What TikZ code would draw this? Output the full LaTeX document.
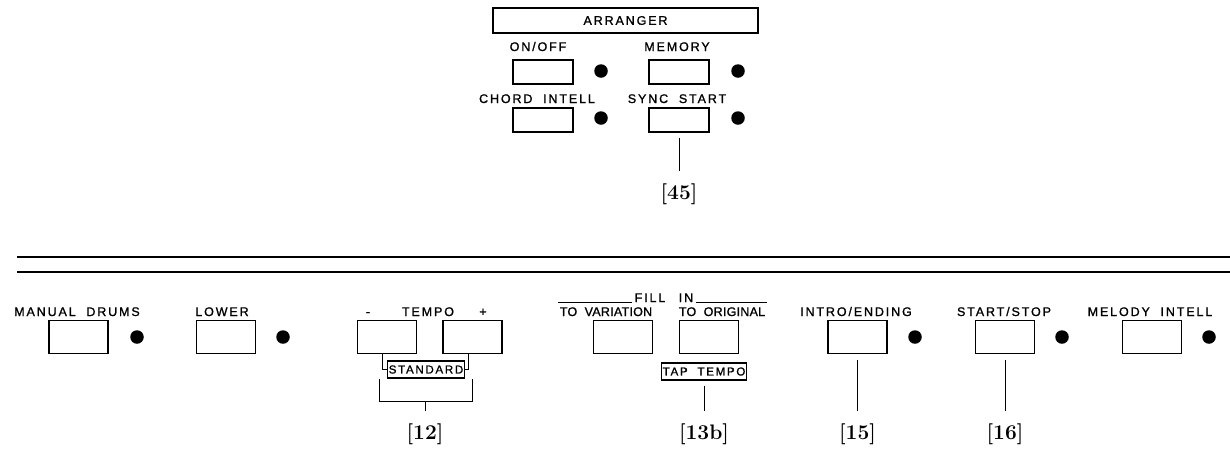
\documentclass[tikz,border=0pt]{standalone}
\usepackage{fontspec}
\usepackage{tikz}
\newfontfamily\panelfont[LetterSpace=15,FakeBold=1.2]{Liberation Sans}
\newfontfamily\panelfonttight[LetterSpace=2,FakeBold=1.2]{Liberation Sans}

\begin{document}
\begin{tikzpicture}[x=1pt,y=-1pt,
	lbl/.style={font=\panelfont\fontsize{12.5}{12.5}\selectfont, inner sep=0pt, anchor=base},
	tightlbl/.style={lbl, font=\panelfonttight\fontsize{12.5}{12.5}\selectfont},
	btn/.style={draw, line width=1.4pt, minimum width=59pt, minimum height=33pt, inner sep=0pt},
	smallbtn/.style={btn, minimum width=60pt, minimum height=24pt},
	lamp/.style={circle, fill=black, inner sep=0pt, minimum size=13.5pt},
	tag/.style={draw, line width=1.1pt, font=\panelfont\fontsize{11.5}{11.5}\selectfont, inner sep=1.5pt, minimum height=17pt},
	ref/.style={font=\bfseries\fontsize{21}{21}\selectfont, inner sep=0pt},
	lead/.style={line width=0.9pt}]
	
	\useasboundingbox (0,0) rectangle (1230,448);
	
	% arranger panel
	\node[draw, line width=1.1pt, minimum width=265pt, minimum height=25pt, font=\panelfont\fontsize{12.5}{12.5}\selectfont] (arr) at (625.5,20.5) {ARRANGER};
	
	\node[lbl] (onofflbl) at (538,51) {ON/OFF};
	\node[smallbtn] (onoff) at (543,72) {};
	\node[lamp] (onofflamp) at (601,71) {};
	
	\node[lbl] (memlbl) at (677,51) {MEMORY};
	\node[smallbtn] (mem) at (679,72) {};
	\node[lamp] (memlamp) at (738,71) {};
	
	\node[lbl] (chordlbl) at (537,103) {CHORD~~INTELL};
	\node[smallbtn] (chord) at (543,120) {};
	\node[lamp] (chordlamp) at (601,118) {};
	
	\node[lbl] (synclbl) at (677,103) {SYNC~~START};
	\node[smallbtn] (sync) at (679,120) {};
	\node[lamp] (synclamp) at (738,118) {};
	
	\node[ref] (ref45) at (679,194) {[45]};
	\draw[lead, shorten <=5pt, shorten >=12pt] (sync.south) -- (ref45.north);
	
	% panel edge
	\draw[line width=1.4pt] (17,257) -- (1230,257);
	\draw[line width=1.4pt] (17,272) -- (1230,272);
	
	% lower row
	\node[lbl] (manuallbl) at (77,316) {MANUAL~~DRUMS};
	\node[btn] (manual) at (78.5,337) {};
	\node[lamp] (manuallamp) at (137,337) {};
	
	\node[lbl] (lowerlbl) at (222,316) {LOWER};
	\node[btn] (lower) at (226,337) {};
	\node[lamp] (lowerlamp) at (283,337) {};
	
	\node[lbl] (minuslbl) at (368,316) {-};
	\node[lbl] (tempolbl) at (428,316) {TEMPO};
	\node[lbl] (pluslbl) at (483,316) {+};
	\node[btn] (minus) at (387,337) {};
	\node[btn] (plus) at (472.5,337) {};
	\node[tag] (std) at (426,369.5) {STANDARD};
	\draw[lead] ([xshift=-5pt]minus.south) |- (std.west);
	\draw[lead] ([xshift=-4pt]plus.south) |- (std.east);
	\coordinate (brl) at (379,379);
	\coordinate (brr) at (472,379);
	\coordinate (brm) at (425,401);
	\draw[lead] (brl) |- (brr |- brm) -- (brr);
	\node[ref] (ref12) at (425,434) {[12]};
	\draw[lead, shorten >=12pt] (brm) -- (ref12.north);
	
	\node[lbl] (fill) at (650,302) {FILL};
	\node[lbl] (in) at (686,302) {IN};
	\coordinate (filll) at (558,302);
	\coordinate (fillr) at (767,302);
	\draw[lead] (filll) -- ([xshift=-2pt]fill.base west);
	\draw[lead] ([xshift=3pt]in.base east) -- (fillr);
	\node[tightlbl] (tovarlbl) at (606,316) {TO~~VARIATION};
	\node[tightlbl] (toorglbl) at (722,316) {TO~~ORIGINAL};
	\node[btn] (tovar) at (623,337) {};
	\node[btn] (toorg) at (709,337) {};
	\node[tag] (tap) at (704,371.5) {TAP~~TEMPO};
	\node[ref] (ref13) at (704,434) {[13b]};
	\draw[lead, shorten <=5pt, shorten >=12pt] (tap.south) -- (ref13.north);
	
	\node[lbl] (introlbl) at (856,316) {INTRO/ENDING};
	\node[btn] (intro) at (857.5,337) {};
	\node[lamp] (introlamp) at (915,337) {};
	\node[ref] (ref15) at (857.5,434) {[15]};
	\draw[lead, shorten <=6pt, shorten >=12pt] (intro.south) -- (ref15.north);
	
	\node[lbl] (startlbl) at (1004,316) {START/STOP};
	\node[btn] (start) at (1005,337) {};
	\node[lamp] (startlamp) at (1062,337) {};
	\node[ref] (ref16) at (1005,434) {[16]};
	\draw[lead, shorten <=6pt, shorten >=12pt] (start.south) -- (ref16.north);
	
	\node[lbl] (melodylbl) at (1150,316) {MELODY~~INTELL};
	\node[btn] (melody) at (1152,337) {};
	\node[lamp] (melodylamp) at (1209,337) {};
	
\end{tikzpicture}
\end{document}
